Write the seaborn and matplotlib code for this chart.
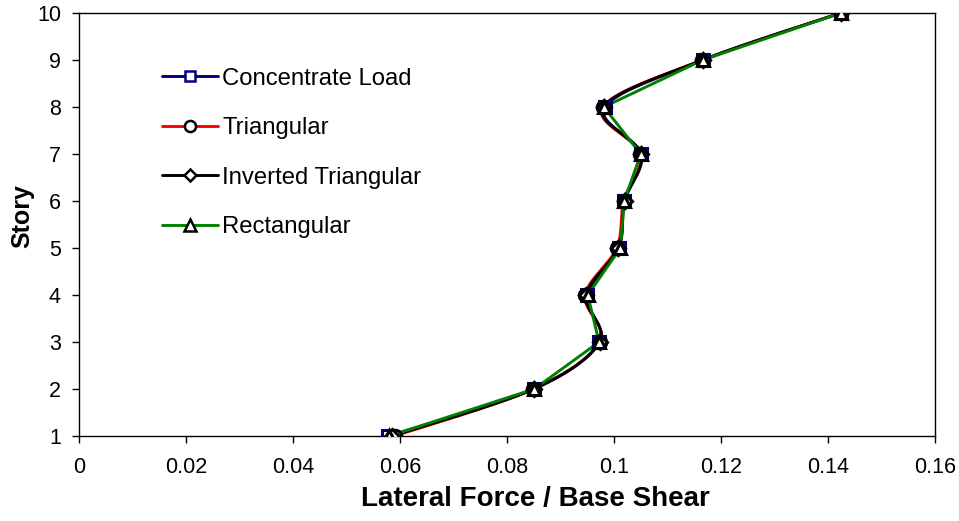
import numpy as np
import pandas as pd
import matplotlib
matplotlib.use("Agg")
import matplotlib.pyplot as plt
import seaborn as sns
from matplotlib.lines import Line2D

stories = [1, 2, 3, 4, 5, 6, 7, 8, 9, 10]
concentrate = [0.0578, 0.0850, 0.0972, 0.0950, 0.1009, 0.1019, 0.1050, 0.0983, 0.1167, 0.1424]
triangular = [0.0590, 0.0849, 0.0973, 0.0946, 0.1005, 0.1018, 0.1049, 0.0979, 0.1165, 0.1424]
inverted = [0.0585, 0.0850, 0.0973, 0.0948, 0.1008, 0.1020, 0.1051, 0.0981, 0.1166, 0.1424]
rectangular = [0.0580, 0.0851, 0.0972, 0.0951, 0.1012, 0.1019, 0.1050, 0.0981, 0.1166, 0.1424]
series_names = ["Concentrate Load", "Triangular", "Inverted Triangular", "Rectangular"]
xticks = [0, 0.02, 0.04, 0.06, 0.08, 0.1, 0.12, 0.14, 0.16]
xticklabels = ["0", "0.02", "0.04", "0.06", "0.08", "0.1", "0.12", "0.14", "0.16"]

sns.set_theme(style="white")
plt.rcParams["font.family"] = ["Liberation Sans", "DejaVu Sans"]
plt.rcParams["text.color"] = "black"
plt.rcParams["axes.labelcolor"] = "black"
plt.rcParams["xtick.color"] = "black"
plt.rcParams["ytick.color"] = "black"

fig = plt.figure(figsize=(9.59, 5.21), dpi=100)
ax = fig.add_axes([79 / 959, 1 - 436 / 521, (935 - 79) / 959, (436 - 13) / 521])
ax.set_xlim(0, 0.16)
ax.set_ylim(1, 10)


def excel_smooth(xs, ys, n=30):
    pts = ax.transData.transform(np.column_stack([xs, ys]))
    P = np.vstack([pts[0], pts, pts[-1]])
    out = [pts[0]]
    t = np.linspace(0, 1, n)[1:]
    for i in range(1, len(P) - 2):
        p0, p3 = P[i], P[i + 1]
        c1 = p0 + (P[i + 1] - P[i - 1]) / 6.0
        c2 = p3 - (P[i + 2] - P[i]) / 6.0
        seg = ((1 - t) ** 3)[:, None] * p0 + (3 * (1 - t) ** 2 * t)[:, None] * c1 \
            + (3 * (1 - t) * t ** 2)[:, None] * c2 + (t ** 3)[:, None] * p3
        out.extend(seg)
    out = np.array(out)
    d = ax.transData.inverted().transform(out)
    return d[:, 0], d[:, 1]


styles = [
    (concentrate, "#000080", "s", "#000080", True),
    (triangular, "#FF0000", "o", "black", True),
    (inverted, "black", "D", "black", True),
    (rectangular, "#008000", "^", "black", False),
]
msizes = {"s": 8, "o": 9, "D": 7.5, "^": 9}

handles = []
for (vals, col, mk, mec, smooth), name in zip(styles, series_names):
    if smooth:
        lx, ly = excel_smooth(vals, stories)
    else:
        lx, ly = np.array(vals), np.array(stories, dtype=float)
    df = pd.DataFrame({"x": lx, "y": ly})
    sns.lineplot(data=df, x="x", y="y", sort=False, estimator=None, color=col,
                 lw=2.1, ax=ax, legend=False)
    ax.plot(vals, stories, ls="none", marker=mk, ms=msizes[mk], mfc="white",
            mec=mec, mew=2.2, zorder=3)
    handles.append(Line2D([], [], color=col, lw=2.1, marker=mk, ms=msizes[mk] - 1,
                          mfc="white", mec=mec, mew=1.8, label=name))

ax.set_xticks(xticks)
ax.set_xticklabels(xticklabels)
ax.set_yticks(stories)
ax.set_xlim(0, 0.16)
ax.set_ylim(1, 10)
ax.tick_params(axis="both", which="major", direction="out", length=5, width=1,
               color="black", labelcolor="black", labelsize=15.5, bottom=True, left=True)
ax.tick_params(axis="x", pad=10)
ax.tick_params(axis="y", pad=8)
for s in ax.spines.values():
    s.set_color("black")
    s.set_linewidth(1)
ax.set_xlabel("Lateral Force / Base Shear", fontsize=20, fontweight="bold", color="black")
ax.set_ylabel("Story", fontsize=18, fontweight="bold", color="black")
ax.xaxis.set_label_coords(0.533, -0.118)
ax.yaxis.set_label_coords(-0.052, 0.52)

leg = ax.legend(handles=handles, loc="upper left", bbox_to_anchor=(0.097, 0.871),
                frameon=False, fontsize=17.2, handlelength=2.35, handletextpad=0.17,
                labelspacing=1.15, borderpad=0, borderaxespad=0, labelcolor="black")

fig.savefig("out.png", dpi=100)
